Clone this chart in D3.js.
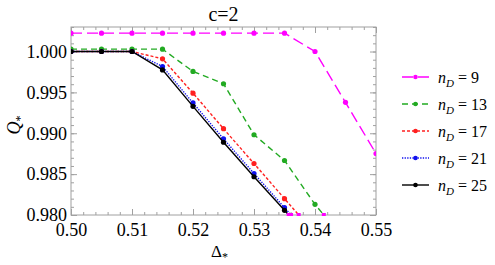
<!DOCTYPE html>
<html>
<head>
<meta charset="utf-8">
<script src="https://cdn.jsdelivr.net/npm/d3@7"></script>
<style>
body { margin: 0; background: #fff; }
text { font-family: "Liberation Serif", "DejaVu Serif", serif; }
</style>
</head>
<body>
<div id="chart-area"></div>
<script>
// data
var deltas = [0.500, 0.505, 0.510, 0.515, 0.520, 0.525, 0.530, 0.535, 0.540, 0.545, 0.550];
var q9  = [1.00225, 1.00225, 1.00225, 1.00225, 1.00225, 1.00225, 1.00225, 1.00225, 1.0000, 0.99378, 0.98752];
var q13 = [1.00029, 1.00029, 1.00029, 1.00029, 0.99756, 0.99606, 0.98982, 0.98667, 0.98130, 0.9768];
var q17 = [1.0000, 1.0000, 1.0000, 0.99911, 0.99491, 0.99056, 0.98630, 0.98200, 0.9777];
var q21 = [1.0000, 1.0000, 1.0000, 0.99817, 0.99371, 0.98932, 0.98508, 0.98090, 0.9767];
var q25 = [1.0000, 1.0000, 1.0000, 0.99775, 0.99329, 0.98890, 0.98468, 0.98057, 0.9764];
var labels = ["9", "13", "17", "21", "25"];
var xTicks = [0.50, 0.51, 0.52, 0.53, 0.54, 0.55];
var yTicks = [0.980, 0.985, 0.990, 0.995, 1.000];

var series = [
    { n: labels[0], q: q9,  color: "#ff00ff", dash: "11,5" },
    { n: labels[1], q: q13, color: "#22aa22", dash: "6,4" },
    { n: labels[2], q: q17, color: "#ff2020", dash: "3,2" },
    { n: labels[3], q: q21, color: "#1010ee", dash: "1.3,1.3" },
    { n: labels[4], q: q25, color: "#000000", dash: null }
];

var margin = { left: 71, top: 27, right: 119, bottom: 50 };
var width = 495 - margin.left - margin.right,
    height = 265 - margin.top - margin.bottom;

var svg = d3.select("#chart-area")
    .append("svg")
    .attr("width", 495)
    .attr("height", 265);

var g = svg.append("g")
    .attr("transform", "translate(" + margin.left + ", " + margin.top + ")");

var x = d3.scaleLinear().domain([0.50, 0.55]).range([0, width]);
var y = d3.scaleLinear().domain([0.98, 1.003]).range([height, 0]);

// clip
svg.append("defs").append("clipPath").attr("id", "clip")
    .append("rect").attr("x", 0).attr("y", 0).attr("width", width).attr("height", height);

// frame ticks (inward, mirrored)
var xMinor = d3.range(0.50, 0.5501, 0.002);
var yMinor = d3.range(0.980, 1.0031, 0.001);
var frameColor = "#a0a0a0";

function styleAxis(sel) {
    sel.select(".domain").remove();
    sel.selectAll(".tick line").attr("stroke", frameColor);
    sel.selectAll(".tick text").attr("font-size", "18px").attr("fill", "#000")
        .style("font-family", "'Liberation Serif', serif");
}

g.append("g").attr("transform", "translate(0," + height + ")")
    .call(d3.axisBottom(x).tickValues(xMinor).tickSize(-3).tickFormat(""))
    .call(styleAxis);
g.append("g").attr("transform", "translate(0," + height + ")")
    .call(d3.axisBottom(x).tickValues(xTicks).tickSize(-6).tickPadding(8).tickFormat(d3.format(".2f")))
    .call(styleAxis);
g.append("g")
    .call(d3.axisTop(x).tickValues(xMinor).tickSize(-3).tickFormat(""))
    .call(styleAxis);
g.append("g")
    .call(d3.axisTop(x).tickValues(xTicks).tickSize(-6).tickFormat(""))
    .call(styleAxis);
g.append("g")
    .call(d3.axisLeft(y).tickValues(yMinor).tickSize(-3).tickFormat(""))
    .call(styleAxis);
g.append("g")
    .call(d3.axisLeft(y).tickValues(yTicks).tickSize(-6).tickPadding(4).tickFormat(d3.format(".3f")))
    .call(styleAxis);
g.append("g").attr("transform", "translate(" + width + ",0)")
    .call(d3.axisRight(y).tickValues(yMinor).tickSize(-3).tickFormat(""))
    .call(styleAxis);
g.append("g").attr("transform", "translate(" + width + ",0)")
    .call(d3.axisRight(y).tickValues(yTicks).tickSize(-6).tickFormat(""))
    .call(styleAxis);

g.append("rect")
    .attr("width", width).attr("height", height)
    .attr("fill", "none").attr("stroke", frameColor).attr("stroke-width", 1);

// lines
var line = d3.line()
    .x(function (d) { return x(d.x); })
    .y(function (d) { return y(d.y); });

var plot = g.append("g").attr("clip-path", "url(#clip)");

series.forEach(function (s) {
    var pts = s.q.map(function (v, i) { return { x: deltas[i], y: v }; });
    plot.append("path")
        .datum(pts)
        .attr("d", line)
        .attr("fill", "none")
        .attr("stroke", s.color)
        .attr("stroke-width", 1.4)
        .attr("stroke-dasharray", s.dash);
    plot.selectAll(null)
        .data(pts)
        .enter()
        .append("circle")
        .attr("cx", function (d) { return x(d.x); })
        .attr("cy", function (d) { return y(d.y); })
        .attr("r", 2.6)
        .attr("fill", s.color);
});

// magenta marks where curves leave through the bottom of the frame
series.slice(1).forEach(function (s) {
    for (var i = 1; i < s.q.length; i++) {
        if (s.q[i - 1] >= 0.98 && s.q[i] < 0.98) {
            var t = (s.q[i - 1] - 0.98) / (s.q[i - 1] - s.q[i]);
            var xc = deltas[i - 1] + t * (deltas[i] - deltas[i - 1]);
            g.append("rect")
                .attr("x", x(xc) - 2).attr("y", height - 2)
                .attr("width", 4).attr("height", 3)
                .attr("fill", "#ff00ff");
        }
    }
});

// title
svg.append("text")
    .attr("x", margin.left + width / 2)
    .attr("y", 21)
    .attr("text-anchor", "middle")
    .attr("font-size", "20px")
    .text("c=2");

// axis labels
var xl = svg.append("text")
    .attr("x", margin.left + width / 2 - 4)
    .attr("y", 257)
    .attr("text-anchor", "middle")
    .attr("font-size", "17px");
xl.append("tspan").text("Δ");
xl.append("tspan").attr("dy", 4).attr("font-size", "12px").text("*");

var yl = svg.append("text")
    .attr("transform", "translate(20," + (margin.top + height / 2 + 4) + ") rotate(-90)")
    .attr("text-anchor", "middle")
    .attr("font-size", "18px");
yl.append("tspan").attr("font-style", "italic").text("Q");
yl.append("tspan").attr("dy", 4).attr("font-size", "12px").text("*");

// legend
var legend = svg.append("g").attr("transform", "translate(402, 77)");
series.forEach(function (s, i) {
    var row = legend.append("g").attr("transform", "translate(0," + (i * 27) + ")");
    row.append("line")
        .attr("x1", 0).attr("x2", 27).attr("y1", 0).attr("y2", 0)
        .attr("stroke", s.color)
        .attr("stroke-width", 1.4)
        .attr("stroke-dasharray", s.dash);
    row.append("circle").attr("cx", 13.5).attr("cy", 0).attr("r", 2.3).attr("fill", s.color);
    var t = row.append("text").attr("x", 36).attr("y", 6).attr("font-size", "16px");
    t.append("tspan").attr("font-style", "italic").text("n");
    t.append("tspan").attr("font-style", "italic").attr("font-size", "11px").attr("dy", 4).text("D");
    t.append("tspan").attr("dy", -4).text(" = " + s.n);
});
</script>
</body>
</html>
